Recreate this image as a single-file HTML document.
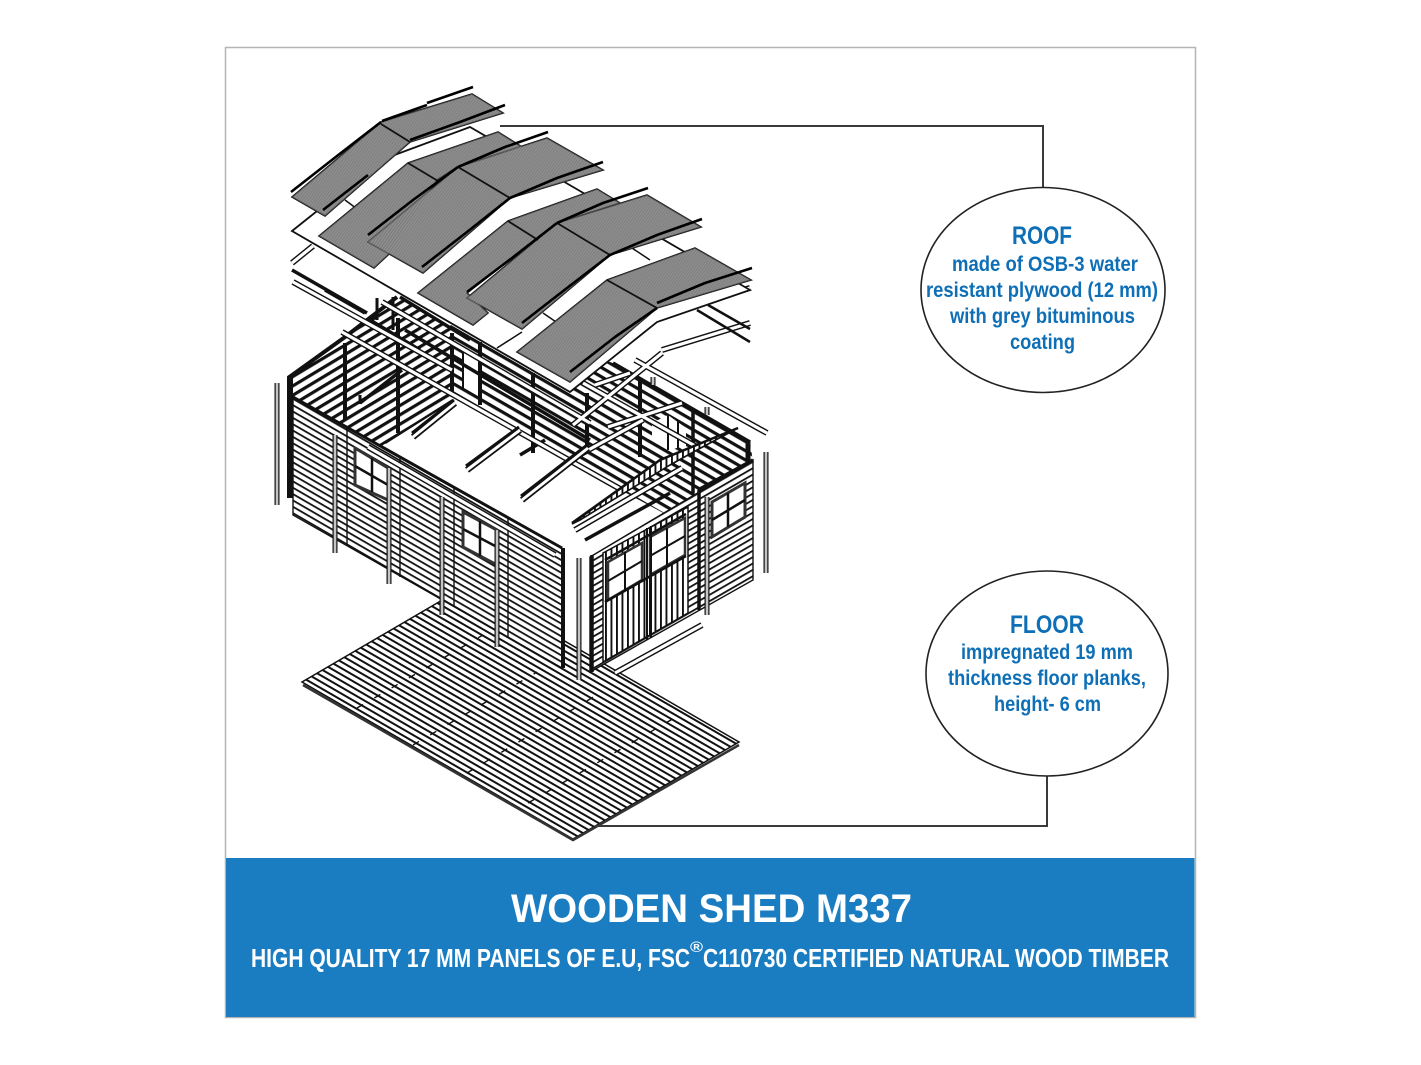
<!DOCTYPE html>
<html><head><meta charset="utf-8"><style>
html,body{margin:0;padding:0;background:#fff;width:1421px;height:1065px;overflow:hidden}
svg{display:block}
text{font-family:"Liberation Sans",sans-serif;text-anchor:middle}
.b{fill:#0e6fb6;font-weight:bold}
.w{fill:#fff;font-weight:bold}
.k{fill:none;stroke:#111;stroke-linecap:butt}
.p{fill:#8b8b8b;stroke:#1a1a1a;stroke-width:1.6;stroke-linejoin:miter}
.t{fill:none;stroke:#000;stroke-width:2.6}
.beam1{fill:none;stroke:#111;stroke-width:6}
.beam2{fill:none;stroke:#fff;stroke-width:3.2}
.raf1{fill:none;stroke:#111;stroke-width:6.5}
.raf2{fill:none;stroke:#fff;stroke-width:3}
.bar1{fill:none;stroke:#111;stroke-width:5}
.bar2{fill:none;stroke:#c4c4c4;stroke-width:2.6}
</style></head><body>
<svg width="1421" height="1065" viewBox="0 0 1421 1065" xmlns="http://www.w3.org/2000/svg">
<defs>
<pattern id="hf" width="60" height="5.5" patternUnits="userSpaceOnUse" patternTransform="rotate(30)"><rect width="60" height="5.5" fill="#fff"/><rect width="60" height="2" fill="#111"/></pattern>
<pattern id="hd" width="60" height="5.5" patternUnits="userSpaceOnUse" patternTransform="rotate(30)"><rect width="60" height="5.5" fill="#fff"/><rect width="60" height="1.8" fill="#111"/></pattern>
<pattern id="hu" width="60" height="5.5" patternUnits="userSpaceOnUse" patternTransform="rotate(-30)"><rect width="60" height="5.5" fill="#fff"/><rect width="60" height="1.8" fill="#111"/></pattern>
<pattern id="hi" width="60" height="8" patternUnits="userSpaceOnUse" patternTransform="rotate(-31)"><rect width="60" height="8" fill="#fff"/><rect width="60" height="3.2" fill="#111"/></pattern>
<pattern id="hb" width="60" height="8" patternUnits="userSpaceOnUse" patternTransform="rotate(30)"><rect width="60" height="8" fill="#fff"/><rect width="60" height="3.2" fill="#111"/></pattern>
<pattern id="hv" width="5.5" height="60" patternUnits="userSpaceOnUse"><rect width="5.5" height="60" fill="#fff"/><rect width="1.9" height="60" fill="#111"/></pattern>
<pattern id="hr" width="2.4" height="30" patternUnits="userSpaceOnUse" patternTransform="rotate(35)"><rect width="2.4" height="30" fill="#8f8f8f"/><rect width=".8" height="30" fill="#6e6e6e"/></pattern>
<path id="beams" d="M342 332L622 490M293 282L452 370M382 302L590 423M583 383L697 447M635 360L767 433M573 425L662 353M662 350L750 323M575 530L682 468M615 673L702 625M292 263L313 246M657 313L750 288M595 385L630 373M608 427L682 403M570 460L643 420M368 447L555 555"/>
<path id="rafters" d="M413 437L455 403M467 470L520 430M522 500L588 448"/>
</defs>

<rect x="225.5" y="47.5" width="970" height="970" fill="#fff" stroke="#b5b5b5" stroke-width="1.5"/>

<!-- floor -->
<polygon points="302,682 468,585 739,742 573,839" fill="url(#hf)" stroke="#111" stroke-width="1.5"/>
<path d="M303 685L573 840L739 745" fill="none" stroke="#333" stroke-width="2.5"/>
<path d="M357 708L483 635M413 745L537 672M467 773L600 693M528 803L683 713" fill="none" stroke="#111" stroke-width="1.4" stroke-dasharray="7 13"/>

<!-- interior walls -->
<polygon points="291,397 288,378 397,297 457,333 453,400 380,447" fill="url(#hi)"/>
<polygon points="450,310 613,363 750,442 753,462 695,530 453,400" fill="url(#hb)"/>
<polygon points="462,352 478,360 478,394 462,386" fill="#fff"/>
<polygon points="652,423 668,415 686,428 686,446 668,450 652,440" fill="#fff"/>
<path d="M463 352V390M668 415V450M678 420V448" class="k" stroke-width="2"/>
<path d="M288 378L345 337L397 297" fill="none" stroke="#111" stroke-width="4"/>
<path d="M400 297L470 340M613 363L750 442" fill="none" stroke="#111" stroke-width="3.5"/>
<polygon points="385,443 453,400 690,530 647,527 590,557 563,548" fill="#fff"/>
<path d="M385 443L453 400" class="k" stroke-width="2.5"/>

<!-- left wall -->
<polygon points="293,397 562,548 562,668 293,515" fill="url(#hd)" stroke="#111" stroke-width="1.4"/>
<path d="M293 397L562 548" class="k" stroke-width="3"/>
<path d="M347 427V545M400 457V577M454 488V607M508 518V638" class="k" stroke-width="1.4"/>
<path d="M290 377V498" class="k" stroke-width="6"/>

<!-- windows left -->
<polygon points="355,448 388,468 388,500 355,485" fill="#fff" stroke="#333" stroke-width="3"/>
<path d="M372 458V492M355 466L388 485" class="k" stroke-width="2.5"/>
<polygon points="463,512 497,530 497,565 463,547" fill="#fff" stroke="#333" stroke-width="3"/>
<path d="M480 521V556M463 529L497 547" class="k" stroke-width="2.5"/>

<!-- right walls -->
<polygon points="590,557 753,460 753,580 590,672" fill="url(#hu)" stroke="#111" stroke-width="1.4"/>
<polygon points="603,553 688,507 688,613 603,662" fill="url(#hv)" stroke="#111" stroke-width="1.5"/>
<polygon points="608,562 642,543 642,580 608,600" fill="#fff" stroke="#333" stroke-width="2.5"/>
<path d="M625 552V590M608 581L642 561" class="k" stroke-width="2"/>
<polygon points="650,537 685,518 685,555 650,575" fill="#fff" stroke="#333" stroke-width="2.5"/>
<path d="M667 528V565M650 556L685 536" class="k" stroke-width="2"/>
<path d="M647 528V640M651 526V638" class="k" stroke-width="2"/>
<path d="M605 602L686 556M605 560L686 514" class="k" stroke-width="2.5"/>
<polygon points="712,502 745,483 745,517 712,537" fill="#fff" stroke="#333" stroke-width="3"/>
<path d="M728 493V527M712 520L745 500" class="k" stroke-width="2.5"/>
<path d="M698 490L753 460M693 410V493M592 555V672M699 490V610" class="k" stroke-width="3.5"/>
<path d="M748 440V460" class="k" stroke-width="5"/>

<!-- posts -->
<path d="M345 343V420M398 318V433M452 333V393M480 342V405M533 373V453M587 393V447M640 380V457M563 548V668" class="k" stroke-width="4"/>
<path d="M377 298V320M393 297V330" class="k" stroke-width="3"/>
<path class="k" stroke-width="3.5" d="M325 290L365 313M360 403L402 370M405 330L590 440M585 450L625 430M520 455L545 440M370 320L420 350"/>
<path class="k" stroke-width="3" d="M360 395V404"/>

<!-- beams -->
<use href="#beams" class="beam1"/><use href="#beams" class="beam2"/>
<use href="#rafters" class="raf1"/><use href="#rafters" class="raf2"/>
<path class="k" stroke-width="3" d="M412 433L454 400M466 466L519 427M521 496L587 445"/>

<!-- gable -->
<polygon points="572,524 660,460 738,428 697,450 670,465 580,520" fill="url(#hv)" stroke="#111" stroke-width="1.6"/>
<path d="M572 523L660 460L738 428" class="k" stroke-width="2.5"/>
<path d="M575 530L682 468" class="beam1"/><path d="M575 530L682 468" class="beam2"/>
<path d="M585 540L670 493" class="k" stroke-width="3.5"/>

<!-- pale vertical bars -->
<path d="M277 383V505M335 435V553M389 468V584M442 497V615M497 530V647M579 558V680M707 497V615M766 452V573M653 377V385M707 407V415" class="bar1"/>
<path d="M277 383V505M335 435V553M389 468V584M442 497V615M497 530V647M579 558V680M707 497V615M766 452V573M653 377V385M707 407V415" class="bar2"/>

<!-- OSB sheet -->
<polygon points="292,231 381,160 470,127 750,290 657,322 570,392" fill="#fff" stroke="#111" stroke-width="1.8"/>
<path d="M292 270L367 313" class="k" stroke-width="3.5"/>
<path d="M697 310L750 342M708 305L750 329" class="k" stroke-width="2.5"/>
<path d="M345 200L372 220M400 170L430 190M440 290L465 305M495 235L520 255M620 240L650 260M543 313L575 335M497 348L522 332" class="k" stroke-width="1.5"/>

<!-- roof panels -->
<g>
<polygon class="p" points="292,197 381,122 472,94 503,113 410,142 325,216"/>
<polygon class="p" points="319,236 408,163 498,132 522,147 457,167 437,180 388,255 374,268"/>
<polygon class="p" points="368,242 458,167 547,138 603,170 510,198 423,273"/>
<polygon class="p" points="418,293 508,221 597,189 620,203 557,223 467,293 488,313 473,325"/>
<polygon class="p" points="467,298 557,223 647,195 701,227 610,255 522,329"/>
<polygon class="p" points="517,352 607,280 695,248 751,280 657,308 570,382"/>
<polygon points="292,197 381,122 472,94 503,113 410,142 325,216" fill="url(#hr)" opacity=".5"/>
<polygon points="368,242 458,167 547,138 603,170 510,198 423,273" fill="url(#hr)" opacity=".5"/>
<polygon points="467,298 557,223 647,195 701,227 610,255 522,329" fill="url(#hr)" opacity=".5"/>
<polygon points="517,352 607,280 695,248 751,280 657,308 570,382" fill="url(#hr)" opacity=".5"/>
<polygon points="418,293 508,221 597,189 620,203 557,223 467,293 488,313 473,325" fill="url(#hr)" opacity=".5"/>
<polygon points="319,236 408,163 498,132 522,147 457,167 437,180 388,255 374,268" fill="url(#hr)" opacity=".5"/>
</g>
<path class="k" stroke-width="1.8" d="M381 124L410 142M408 163L438 181M458 167L510 198M508 221L538 240M557 223L610 255M607 280L657 308"/>
<path class="t" d="M427 103L473 87M382 121L427 105M291 192L337 156M337 156L381 122M460 122L505 105M410 140L460 122M323 210L368 175M368 235L413 200M413 200L458 167M422 267L467 232M467 232L510 198M505 147L548 132M458 167L505 147M557 178L603 162M510 198L557 178M467 292L512 258M512 258L557 223M522 323L567 288M567 288L610 255M603 203L648 188M557 223L603 203M657 235L702 219M610 255L657 235M570 372L615 337M615 337L657 308M705 283L752 268M657 303L705 283"/>

<!-- callout lines -->
<path d="M500 126H1043V188" fill="none" stroke="#3a3a3a" stroke-width="2"/>
<path d="M595 826H1047V773" fill="none" stroke="#3a3a3a" stroke-width="2"/>
<ellipse cx="1043" cy="290" rx="122" ry="102.5" fill="#fff" stroke="#222" stroke-width="1.6"/>
<ellipse cx="1047" cy="673.500" rx="121" ry="102.500" fill="#fff" stroke="#222" stroke-width="1.6"/>

<text class="b" x="1042" y="244" font-size="25" textLength="60" lengthAdjust="spacingAndGlyphs">ROOF</text>
<text class="b" x="1045" y="271" font-size="21.500" textLength="186" lengthAdjust="spacingAndGlyphs">made of OSB-3 water</text>
<text class="b" x="1042" y="297" font-size="21.500" textLength="232" lengthAdjust="spacingAndGlyphs">resistant plywood (12 mm)</text>
<text class="b" x="1042.500" y="323" font-size="21.500" textLength="185" lengthAdjust="spacingAndGlyphs">with grey bituminous</text>
<text class="b" x="1042.500" y="349" font-size="21.500" textLength="65" lengthAdjust="spacingAndGlyphs">coating</text>

<text class="b" x="1047" y="633" font-size="25" textLength="74" lengthAdjust="spacingAndGlyphs">FLOOR</text>
<text class="b" x="1047" y="659" font-size="21.500" textLength="172" lengthAdjust="spacingAndGlyphs">impregnated 19 mm</text>
<text class="b" x="1047" y="685" font-size="21.500" textLength="198" lengthAdjust="spacingAndGlyphs">thickness floor planks,</text>
<text class="b" x="1047.500" y="711" font-size="21.500" textLength="107" lengthAdjust="spacingAndGlyphs">height- 6 cm</text>

<!-- banner -->
<rect x="226" y="858" width="968.500" height="159" fill="#1b7dc1"/>
<text class="w" x="711.500" y="922" font-size="40" textLength="401" lengthAdjust="spacingAndGlyphs">WOODEN SHED M337</text>
<text class="w" x="470.500" y="967" font-size="26" textLength="439" lengthAdjust="spacingAndGlyphs">HIGH QUALITY 17 MM PANELS OF E.U, FSC</text>
<text class="w" x="696.500" y="952" font-size="15" textLength="13" lengthAdjust="spacingAndGlyphs">®</text>
<text class="w" x="936" y="967" font-size="26" textLength="466" lengthAdjust="spacingAndGlyphs">C110730 CERTIFIED NATURAL WOOD TIMBER</text>
</svg>
</body></html>
